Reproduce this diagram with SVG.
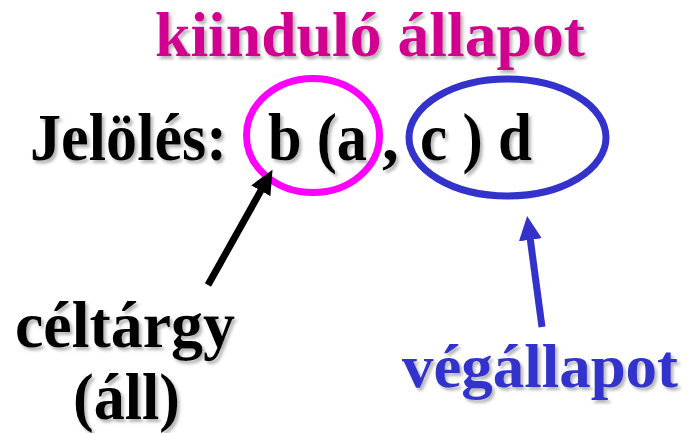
<svg xmlns="http://www.w3.org/2000/svg" width="700" height="433" viewBox="0 0 700 433">
  <defs>
    <filter id="shadow" filterUnits="userSpaceOnUse" x="0" y="0" width="700" height="433">
      <feDropShadow dx="2.5" dy="3" stdDeviation="1.5" flood-color="#777" flood-opacity="0.55"/>
    </filter>
    <marker id="headBlack" markerUnits="userSpaceOnUse" markerWidth="24" markerHeight="24" viewBox="0 -12 24 24" refX="1" refY="0" orient="auto">
      <path d="M0,-11 L24,0 L0,11 z" fill="#000"/>
    </marker>
    <marker id="headBlue" markerUnits="userSpaceOnUse" markerWidth="24" markerHeight="24" viewBox="0 -12 24 24" refX="1" refY="0" orient="auto">
      <path d="M0,-11.5 L24,0 L0,11.5 z" fill="#3333CC"/>
    </marker>
    <style>
      text { font-family: "Liberation Serif", "Times New Roman", serif; font-weight: bold; filter: url(#shadow); }
      .title { fill: #D10090; font-size: 64px; }
      .main { fill: #000; font-size: 67px; }
      .lbl { fill: #000; font-size: 66px; }
      .blue { fill: #3333CC; font-size: 62px; }
      .ring { fill: none; stroke-width: 7; }
      .conn { stroke-width: 7; fill: none; }
    </style>
  </defs>
  <rect width="700" height="433" fill="#fff"/>

  <g id="title">
    <text class="title" x="155" y="56" textLength="430" lengthAdjust="spacingAndGlyphs">kiinduló állapot</text>
  </g>

  <g id="notation">
    <text class="main" x="30" y="160" textLength="197" lengthAdjust="spacingAndGlyphs">Jelölés:</text>
    <text class="main" x="268" y="160" textLength="99" lengthAdjust="spacingAndGlyphs">b (a</text>
    <text class="main" x="382" y="160">,</text>
    <text class="main" x="420" y="160" textLength="112" lengthAdjust="spacingAndGlyphs">c ) d</text>
  </g>

  <g id="start-ring">
    <ellipse class="ring" cx="313" cy="135.5" rx="66.5" ry="57" stroke="#FF00FF"/>
  </g>
  <g id="end-ring">
    <ellipse class="ring" cx="507.5" cy="137.5" rx="98.5" ry="58.5" stroke="#3333CC"/>
  </g>

  <g id="connectors">
    <line class="conn" x1="208" y1="285" x2="261.3" y2="189.9" stroke="#000" marker-end="url(#headBlack)"/>
    <line class="conn" x1="542" y1="327" x2="530.2" y2="238.8" stroke="#3333CC" marker-end="url(#headBlue)"/>
  </g>

  <g id="target-label">
    <text class="lbl" x="15" y="347" textLength="220" lengthAdjust="spacingAndGlyphs">céltárgy</text>
    <text class="lbl" x="73" y="419" textLength="107" lengthAdjust="spacingAndGlyphs">(áll)</text>
  </g>

  <g id="end-label">
    <text class="blue" x="402" y="387" textLength="276" lengthAdjust="spacingAndGlyphs">végállapot</text>
  </g>
</svg>
